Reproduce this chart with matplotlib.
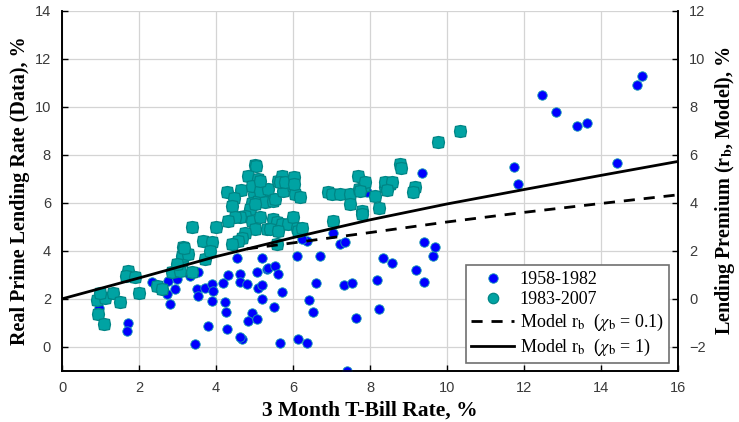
import matplotlib
matplotlib.use("Agg")
import matplotlib.pyplot as plt
from matplotlib.markers import MarkerStyle
from matplotlib.transforms import Affine2D
from matplotlib.lines import Line2D

# ---- data ----
blue_x = [0.97, 1.72, 1.68, 2.33, 2.76, 2.98, 2.94, 2.72, 2.81, 3.54, 3.32, 3.50, 3.54, 3.71,
          3.89, 3.93, 3.89, 3.45, 3.78, 4.19, 4.32, 4.62, 4.62, 4.80, 4.23, 4.25, 4.28, 4.67,
          4.62, 4.93, 4.84, 5.06, 5.10, 5.19, 5.06, 5.32, 4.54, 5.19, 6.10, 6.70, 5.36, 5.53,
          5.60, 5.72, 5.51, 6.59, 6.42, 6.51, 7.32, 7.52, 7.64, 8.17, 8.22, 8.33, 8.58, 9.19,
          9.41, 9.64, 5.66, 6.12, 6.35, 7.39, 7.93, 9.34, 7.05, 6.35, 6.23, 7.22, 7.35, 9.41,
          9.69, 11.75, 11.85, 12.46, 12.82, 13.37, 13.63, 14.41, 14.93, 15.06, 5.19]
blue_y = [1.64, 1.01, 0.67, 2.71, 2.75, 2.82, 2.40, 2.20, 1.80, 3.10, 2.96, 2.40, 2.10, 2.47,
          2.61, 2.33, 1.92, 0.11, 0.85, 2.65, 2.99, 3.03, 2.71, 2.61, 1.85, 1.46, 0.76, 0.32,
          0.42, 1.43, 1.08, 1.15, 2.47, 1.99, 3.13, 3.24, 3.72, 3.72, 3.79, 3.79, 3.30, 3.37,
          3.03, 2.29, 1.68, 2.64, 1.95, 1.46, 2.58, 2.64, 1.21, 2.78, 1.57, 3.68, 3.51, 3.21,
          2.72, 3.79, 0.15, 0.35, 0.15, -1.01, 6.43, 7.24, 4.76, 4.42, 4.49, 4.28, 4.35, 4.38,
          4.17, 7.50, 6.80, 10.49, 9.79, 9.20, 9.32, 7.64, 10.92, 11.28, 2.58]

teal_x = [0.90, 1.12, 0.99, 1.33, 1.51, 0.94, 1.09, 1.72, 1.66, 1.90, 2.01, 2.46, 2.59, 2.85,
          3.06, 3.11, 3.11, 3.37, 3.71, 3.15, 3.28, 2.98, 3.18, 3.38, 3.99, 3.67, 3.89, 3.84,
          5.01, 5.05, 4.84, 5.10, 5.06, 5.27, 4.99, 4.28, 4.65, 4.47, 4.41, 4.93, 5.10, 5.27,
          4.88, 4.75, 4.62, 4.49, 4.30, 4.93, 5.01, 4.75, 4.67, 4.58, 4.41, 5.32, 5.14, 5.01,
          4.93, 5.14, 5.36, 5.14, 5.49, 5.53, 5.62, 5.75, 6.01, 6.05, 6.18, 5.71, 5.66, 5.79,
          6.03, 6.03, 5.49, 5.57, 5.71, 5.88, 6.01, 6.10, 5.40, 5.62, 6.14, 6.23, 5.57, 6.92,
          7.00, 7.22, 7.48, 7.70, 7.83, 7.48, 7.78, 7.78, 8.22, 8.13, 7.05, 8.39, 8.52, 7.68,
          7.87, 7.74, 8.39, 8.56, 8.43, 8.78, 8.81, 9.17, 9.12, 9.77, 10.34]
teal_y = [1.95, 2.05, 2.26, 2.26, 1.85, 1.39, 0.97, 3.17, 2.96, 2.89, 2.24, 2.54, 2.40, 3.10,
          3.17, 3.58, 3.79, 3.10, 3.65, 4.14, 3.86, 3.44, 4.11, 5.00, 5.00, 4.39, 4.35, 4.00,
          7.58, 7.55, 7.13, 6.99, 6.71, 6.50, 6.36, 6.43, 6.54, 6.19, 5.85, 6.01, 6.08, 6.04,
          5.74, 5.46, 5.39, 5.39, 5.25, 5.25, 4.90, 4.76, 4.55, 4.42, 4.28, 4.90, 5.39, 5.95,
          6.71, 6.50, 6.57, 6.92, 6.08, 6.15, 6.92, 6.50, 6.71, 6.36, 6.22, 7.13, 6.85, 6.85,
          7.08, 6.78, 5.32, 5.18, 5.11, 5.11, 5.39, 4.97, 4.90, 4.83, 4.83, 4.97, 4.28, 6.43,
          6.36, 6.36, 6.36, 6.57, 6.71, 5.95, 5.67, 5.53, 5.80, 6.29, 5.22, 6.64, 6.78, 7.13,
          6.85, 6.50, 6.85, 6.85, 6.53, 7.61, 7.45, 6.64, 6.43, 8.51, 8.97]

# model premium (right axis units)
model1_x = [0, 2, 4, 6, 8, 10, 12, 14, 16]
model1_y = [0.0, 0.87, 1.76, 2.55, 3.29, 3.95, 4.55, 5.14, 5.72]
model01_x = [4.8, 6, 8, 10, 12, 14, 16]
model01_y = [2.08, 2.33, 2.76, 3.20, 3.60, 3.97, 4.33]

x_ticks = [0, 2, 4, 6, 8, 10, 12, 14, 16]
left_ticks = [0, 2, 4, 6, 8, 10, 12, 14]
right_ticks = [-2, 0, 2, 4, 6, 8, 10, 12]

label_blue = "1958-1982"
label_teal = "1983-2007"
label_m01 = r"Model r$_{\rm b}$  ($\chi_{\rm b}$ = 0.1)"
label_m1 = r"Model r$_{\rm b}$  ($\chi_{\rm b}$ = 1)"

# ---- style ----
plt.rcParams['font.family'] = ['Liberation Serif', 'DejaVu Serif']
plt.rcParams['mathtext.fontset'] = 'stix'

fig = plt.figure(figsize=(7.39, 4.22), dpi=100)
ax = fig.add_axes([0.084, 0.121, 0.8335, 0.854])
ax2 = ax.twinx()

BLUE = '#0000ff'
BLUE_EDGE = '#1aa0b0'
TEAL = '#00a3a3'
TEAL_EDGE = '#008585'
oct_marker = MarkerStyle('8', transform=Affine2D().rotate_deg(22.5))

ax.set_xlim(0, 16)
ax.set_ylim(-1, 14)
ax2.set_ylim(-3, 12)

ax.plot(blue_x, blue_y, linestyle='none', marker='o', markersize=6.8,
        markerfacecolor=BLUE, markeredgecolor=BLUE_EDGE, markeredgewidth=0.6, zorder=3)
ax.plot(teal_x, teal_y, linestyle='none', marker=oct_marker, markersize=9.3,
        markerfacecolor=TEAL, markeredgecolor=TEAL_EDGE, markeredgewidth=0.9, zorder=4)

ax2.plot(model01_x, model01_y, color='black', linewidth=2.0, linestyle=(0, (4, 3.2)), zorder=5)
ax2.plot(model1_x, model1_y, color='black', linewidth=2.0, linestyle='-', zorder=5)

# grid & ticks
ax.set_xticks(x_ticks)
ax.set_yticks(left_ticks)
ax2.set_yticks(right_ticks)
ax.grid(True, color='#d4d4d4', linewidth=0.9)
ax.set_axisbelow(True)

for a in (ax, ax2):
    a.tick_params(direction='in', length=4, width=1, colors='black', labelcolor='#3a3a3a')
    for lab in a.get_xticklabels() + a.get_yticklabels():
        lab.set_fontfamily('Liberation Sans')
        lab.set_fontsize(10.5)
ax.tick_params(axis='x', pad=7)
ax.tick_params(axis='y', pad=8)
ax2.tick_params(axis='y', pad=8)

for a in (ax, ax2):
    a.spines['top'].set_visible(False)
    a.spines['left'].set_linewidth(1.2)
    a.spines['bottom'].set_linewidth(1.2)
    a.spines['right'].set_linewidth(1.2)

ax.set_xlabel("3 Month T-Bill Rate, %", fontsize=15.5, fontweight='bold', labelpad=4)
ax.set_ylabel("Real Prime Lending Rate (Data), %", fontsize=14.5, fontweight='bold', labelpad=3)
ax2.set_ylabel(r"Lending Premium (r$_{\bf b}$, Model), %", fontsize=14.5, fontweight='bold', labelpad=5)

handles = [
    Line2D([], [], linestyle='none', marker='o', markersize=6.8, markerfacecolor=BLUE,
           markeredgecolor=BLUE_EDGE, markeredgewidth=0.6),
    Line2D([], [], linestyle='none', marker='o', markersize=7.5, markerfacecolor=TEAL,
           markeredgecolor=TEAL_EDGE, markeredgewidth=0.9),
    Line2D([], [], color='black', linewidth=2.0, linestyle=(0, (4, 3.2))),
    Line2D([], [], color='black', linewidth=2.0, linestyle='-'),
]
leg = ax2.legend(handles, [label_blue, label_teal, label_m01, label_m1],
                 loc='lower right', bbox_to_anchor=(0.986, 0.021), borderaxespad=0,
                 fontsize=13, frameon=True, fancybox=False, framealpha=1,
                 edgecolor='#707070', handlelength=2.4, handletextpad=0.3,
                 labelspacing=0.2, borderpad=0.3)
leg.get_frame().set_linewidth(1.2)
leg.set_zorder(10)

fig.savefig("out.png", dpi=100)
